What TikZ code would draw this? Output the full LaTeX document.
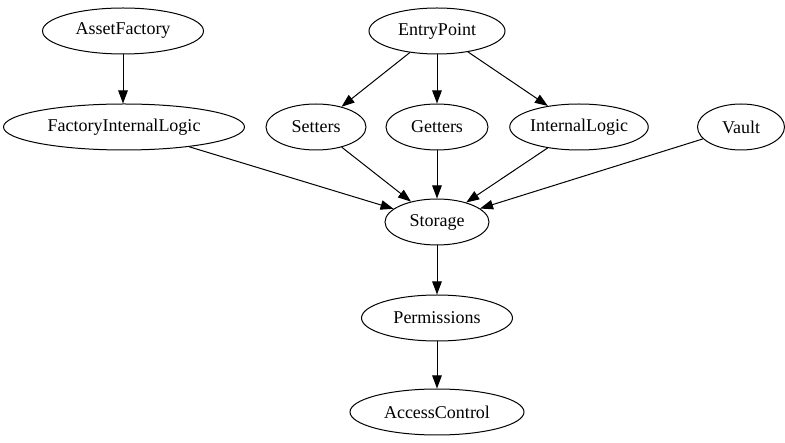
\documentclass[tikz,border=0pt]{standalone}
\usepackage{fontspec}
\setmainfont{Liberation Serif}
\usetikzlibrary{shapes.geometric,arrows.meta}
\begin{document}
\begin{tikzpicture}[x=1pt,y=-1pt,
  nd/.style={ellipse,draw,line width=1pt,inner sep=0pt,minimum height=46pt,font=\fontsize{18}{20}\selectfont},
  edge/.style={draw,line width=1pt,-{Triangle[length=13pt,width=9.5pt]}}]
\useasboundingbox (0,0) rectangle (785,443);
\node[nd,minimum width=161pt] (af) at (123,31) {AssetFactory};
\node[nd,minimum width=136pt] (ep) at (437,31) {EntryPoint};
\node[nd,minimum width=241pt] (fil) at (124,127) {FactoryInternalLogic};
\node[nd,minimum width=100pt] (set) at (316,127) {Setters};
\node[nd,minimum width=102pt] (get) at (437,127) {Getters};
\node[nd,minimum width=134pt] (il) at (579,127) {InternalLogic};
\node[nd,minimum width=87pt] (va) at (741,127) {Vault};
\node[nd,minimum width=104pt] (st) at (437,222) {Storage};
\node[nd,minimum width=151pt] (pe) at (437,318) {Permissions};
\node[nd,minimum width=174pt] (ac) at (437,412) {AccessControl};
\path[edge] (af.south) -- (af.south |- fil.north);
\path[edge] (ep) -- (set);
\path[edge] (ep) -- (get);
\path[edge] (ep) -- (il);
\path[edge] (fil) -- (st);
\path[edge] (set) -- (st);
\path[edge] (get) -- (st);
\path[edge] (il) -- (st);
\path[edge] (va) -- (st);
\path[edge] (st) -- (pe);
\path[edge] (pe) -- (ac);
\end{tikzpicture}
\end{document}
